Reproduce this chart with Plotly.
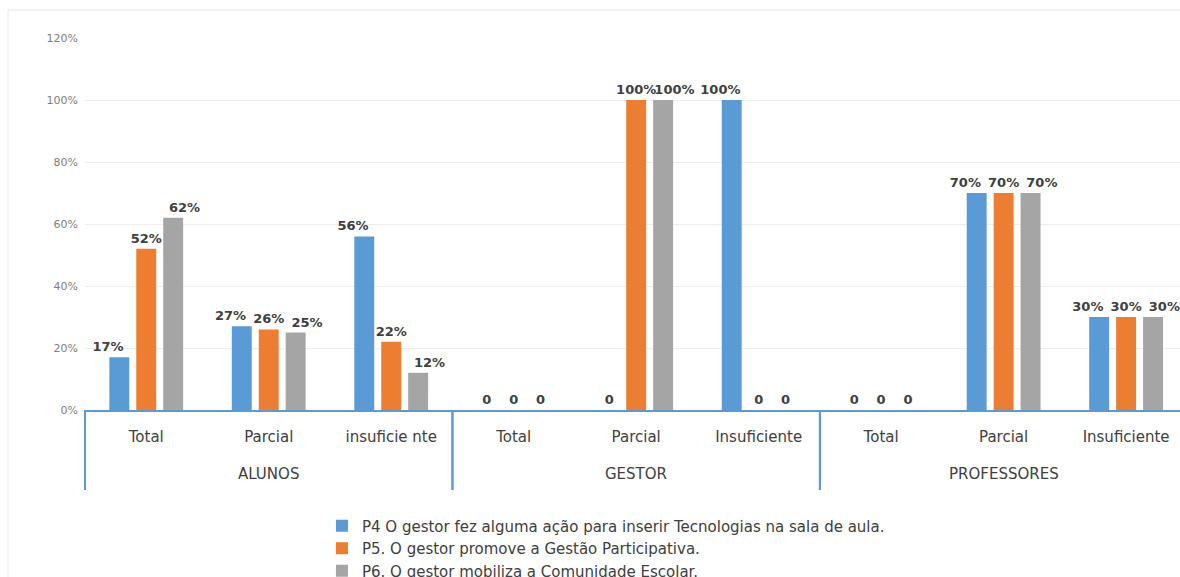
import plotly.graph_objects as go

groups = ["ALUNOS"] * 3 + ["GESTOR"] * 3 + ["PROFESSORES"] * 3
categories = ["Total", "Parcial", "insuficie nte",
              "Total", "Parcial", "Insuficiente",
              "Total", "Parcial", "Insuficiente"]

series_names = [
    "P4 O gestor fez alguma ação para inserir Tecnologias na sala de aula.",
    "P5. O gestor promove a Gestão Participativa.",
    "P6. O gestor mobiliza a Comunidade Escolar.",
]
p4 = [0.17, 0.27, 0.56, 0, 0, 1.00, 0, 0.70, 0.30]
p5 = [0.52, 0.26, 0.22, 0, 1.00, 0, 0, 0.70, 0.30]
p6 = [0.62, 0.25, 0.12, 0, 1.00, 0, 0, 0.70, 0.30]
colors = ["#5B9BD5", "#ED7D31", "#A5A5A5"]

FONT = "'DejaVu Sans', Verdana, sans-serif"
AXIS_BLUE = "#5B9BD5"
NB = "\u00a0" * 5
X_RANGE = [-0.5, 8.44]   # last category is cut by the right edge, as in the original

pos = list(range(len(categories)))


def label(v, side):
    if v == 0:
        return "0"
    s = f"{round(v * 100)}%"
    if side < 0:
        return s + NB      # nudge left (avoid overlap, like the original)
    if side > 0:
        return NB + s      # nudge right
    return s


def to_paper(xv):
    return (xv - X_RANGE[0]) / (X_RANGE[1] - X_RANGE[0])


fig = go.Figure()
for i, (name, vals, col) in enumerate(zip(series_names, [p4, p5, p6], colors)):
    side = i - 1
    fig.add_trace(go.Bar(
        x=pos, y=vals, name=name,
        marker=dict(color=col, line=dict(width=0)),
        text=[label(v, side) for v in vals],
        textposition="outside", cliponaxis=False, constraintext="none",
        textfont=dict(family=FONT, size=13, color="#404040", weight="bold"),
        hoverinfo="skip",
    ))

# group labels and dividers of the two-level category axis
group_names = list(dict.fromkeys(groups))
annotations = []
shapes = []
for g in group_names:
    idx = [p for p, gg in zip(pos, groups) if gg == g]
    annotations.append(dict(
        x=sum(idx) / len(idx), xref="x", y=-0.172, yref="paper",
        text=g, showarrow=False, yanchor="middle",
        font=dict(family=FONT, size=15, color="#404040"),
    ))
    for b in (min(idx) - 0.5, max(idx) + 0.5):
        xp = to_paper(b)
        if 0 <= xp <= 1:
            shapes.append(dict(
                type="line", xref="paper", yref="paper",
                x0=xp, x1=xp, y0=0, y1=-0.215,
                line=dict(color=AXIS_BLUE, width=2),
            ))

# light chart-area frame
shapes += [
    dict(type="line", xref="paper", yref="paper",
         x0=-0.0703, x1=1.0, y0=1.0753, y1=1.0753,
         line=dict(color="#E8E8E8", width=1), layer="below"),
    dict(type="line", xref="paper", yref="paper",
         x0=-0.0703, x1=-0.0703, y0=1.0753, y1=-0.5,
         line=dict(color="#EDEDED", width=1), layer="below"),
]

fig.update_layout(
    width=1180, height=577,
    margin=dict(l=85, r=0, t=38, b=167, autoexpand=False),
    paper_bgcolor="white", plot_bgcolor="white",
    barmode="group", bargap=0.34, bargroupgap=0.26,
    font=dict(family=FONT, color="#404040"),
    showlegend=True,
    legend=dict(
        orientation="v", x=0.2164, xanchor="left", y=-0.2675, yanchor="top",
        font=dict(family=FONT, size=15, color="#404040"),
        itemwidth=30, tracegroupgap=0, bgcolor="rgba(0,0,0,0)",
    ),
    annotations=annotations,
    shapes=shapes,
)
fig.update_yaxes(
    range=[0, 1.2], tickvals=[0, 0.2, 0.4, 0.6, 0.8, 1.0, 1.2],
    ticktext=["0%", "20%", "40%", "60%", "80%", "100%", "120%"],
    tickfont=dict(family=FONT, size=11, color="#7F7F7F"),
    showgrid=True, gridcolor="#EDEDED", gridwidth=1,
    zeroline=False, showline=False, ticklabelstandoff=6,
)
fig.update_xaxes(
    range=X_RANGE, tickvals=pos, ticktext=categories,
    showline=True, linecolor=AXIS_BLUE, linewidth=2,
    showgrid=False, zeroline=False,
    tickfont=dict(family=FONT, size=15, color="#404040"),
    ticks="", ticklabelstandoff=12,
)

fig.write_html("out.html")
